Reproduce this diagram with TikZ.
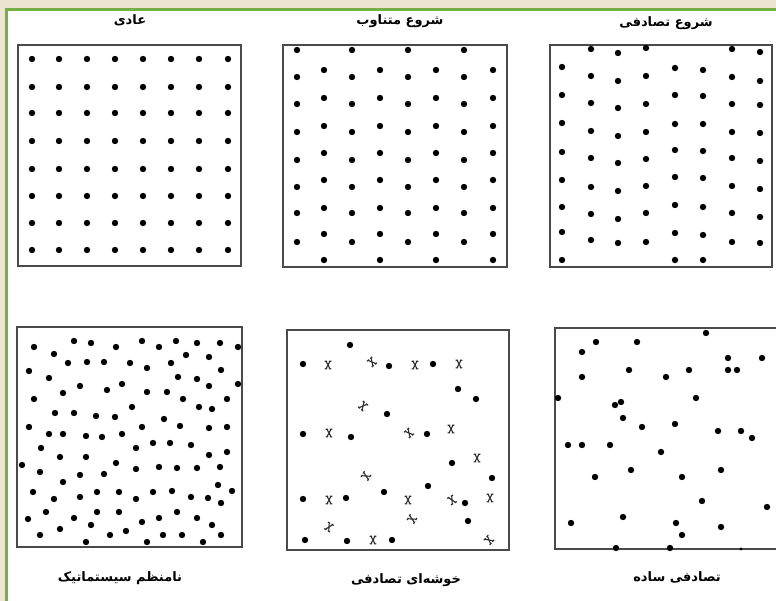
\documentclass[tikz,border=0pt]{standalone}
\usepackage{fontspec}
\newfontfamily\arabicfont[Script=Arabic]{DejaVu Sans}
\TeXXeTstate=1
\definecolor{bgbeige}{HTML}{EEE4D2}
\definecolor{framegreen}{HTML}{74B043}
\definecolor{boxgray}{HTML}{4A4A4A}
\definecolor{markgray}{HTML}{2E2E2E}
\tikzset{
  panel/.style={draw=boxgray, line width=2pt},
  ttl/.style={font=\arabicfont\bfseries\fontsize{13}{15}\selectfont, inner sep=0pt},
  xmark/.pic={
    \draw[markgray, line width=1.1pt] (-2,-3.8)--(2,3.8) (-2,3.8)--(2,-3.8)
      (-3.4,-3.8)--(-0.8,-3.8) (0.8,-3.8)--(3.4,-3.8)
      (-3.4,3.8)--(-0.8,3.8) (0.8,3.8)--(3.4,3.8);
  }
}
\begin{document}
\begin{tikzpicture}[x=1pt,y=-1pt]
\useasboundingbox (0,0) rectangle (776,601);
\fill[bgbeige] (0,0) rectangle (776,601);
\fill[white] (6,10) rectangle (790,610);
\draw[framegreen, line width=3pt] (6,610) -- (6,10) -- (790,10);

% panels
\draw[panel] (18,45) rectangle (241,266);
\draw[panel] (283,45) rectangle (507,267);
\draw[panel] (550,45) rectangle (772,267);
\draw[panel] (17,327) rectangle (242,547);
\draw[panel] (287,330) rectangle (509,550);
\draw[panel] (555,328) rectangle (782,549);

% titles
\node[ttl] (t1) at (130,20) {\beginR عادی\endR};
\node[ttl] (t2) at (400,21) {\beginR شروع متناوب\endR};
\node[ttl] (t3) at (666,23) {\beginR شروع تصادفی\endR};
\node[ttl] (t4) at (120,578) {\beginR نامنظم سیستماتیک\endR};
\node[ttl] (t5) at (406,580) {\beginR خوشه‌ای تصادفی\endR};
\node[ttl] (t6) at (677,577) {\beginR تصادفی ساده\endR};

% panel 1: regular grid
\foreach \x in {32,59,87,115,143,171,199,228}
  \foreach \y in {59,87,113,141,169,196,223,250}
    \fill (\x,\y) circle (3.2pt);

% panel 2: alternating start
\foreach \x in {297,352,408,464}
  \foreach \y in {50,77,104,132,160,187,213,242}
    \fill (\x,\y) circle (3.2pt);
\foreach \x in {324,380,436,493}
  \foreach \y in {70,98,126,153,180,208,234,260}
    \fill (\x,\y) circle (3.2pt);

% panel 3: random start
\foreach \x/\ys in {562/{67,95,123,152,180,207,232,260},
                    591/{49,76,103,131,158,187,214,240},
                    618/{53,81,108,136,163,191,219,243},
                    646/{48,76,104,132,159,186,213,242},
                    675/{68,95,124,150,177,205,233,260},
                    703/{70,96,124,151,178,207,235,260},
                    732/{49,77,104,132,158,186,213,242},
                    760/{52,81,105,133,161,189,217,243}}
  \foreach \y in \ys
    \fill (\x,\y) circle (3.2pt);

% panel 4: systematic unaligned
\foreach \p in {(74,341),(91,343),(142,341),(176,341),(34,347),(116,347),(159,347),(197,343),(220,343),(238,347),
  (54,354),(186,355),(209,357),(68,363),(87,362),(104,362),(130,363),(171,363),(29,371),(49,378),
  (147,368),(221,370),(178,377),(197,379),(80,386),(122,384),(209,386),(238,384),(107,390),(63,393),
  (147,392),(167,392),(34,399),(183,399),(227,399),(199,407),(212,409),(132,407),(55,413),(74,413),
  (96,416),(115,417),(164,419),(29,427),(142,427),(180,426),(209,428),(227,427),(49,434),(63,434),
  (86,436),(122,434),(102,437),(153,443),(170,443),(191,445),(41,448),(136,448),(209,455),(227,452),
  (60,457),(86,457),(22,465),(116,463),(40,472),(80,475),(104,474),(136,469),(159,467),(177,468),
  (197,468),(220,467),(63,482),(218,485),(33,492),(97,492),(119,492),(153,492),(172,491),(232,491),
  (54,499),(80,497),(136,499),(191,497),(208,498),(221,503),(46,512),(97,512),(119,512),(177,512),
  (28,519),(74,518),(159,518),(197,518),(142,522),(91,525),(60,529),(212,525),(40,535),(110,535),
  (126,531),(163,535),(182,535),(221,535),(86,542),(147,542),(203,542)}
  \fill \p circle (3.2pt);

% panel 5: clustered random
\foreach \p in {(350,345),(303,364),(389,366),(433,364),(458,389),(476,399),(387,414),(303,434),
  (351,437),(427,434),(452,463),(492,478),(428,486),(384,492),(303,499),(346,498),(465,503),
  (468,521),(305,540),(347,541),(392,540)}
  \fill \p circle (3.2pt);
\foreach \x/\y/\r in {328/365/0,415/365/0,459/364/0,329/433/0,451/429/0,477/458/0,329/500/0,
  408/500/0,490/498/0,373/540/0,372/362/40,363/406/-40,409/433/40,366/476/60,452/500/30,
  412/519/60,329/527/-30,489/540/50}
  \pic[rotate=\r] at (\x,\y) {xmark};

% panel 6: simple random
\foreach \p in {(706,333),(596,342),(637,342),(582,352),(728,358),(762,358),(629,370),(689,370),
  (728,370),(737,370),(582,377),(666,377),(558,398),(696,398),(615,405),(621,402),(623,418),
  (642,427),(675,424),(718,431),(741,431),(752,438),(568,445),(582,445),(610,445),(661,452),
  (631,470),(721,470),(595,477),(682,477),(702,501),(767,507),(571,523),(623,517),(676,523),
  (721,527),(682,535),(616,548),(670,548)}
  \fill \p circle (3.2pt);
\fill (741,549) circle (1.6pt);
\end{tikzpicture}
\end{document}
